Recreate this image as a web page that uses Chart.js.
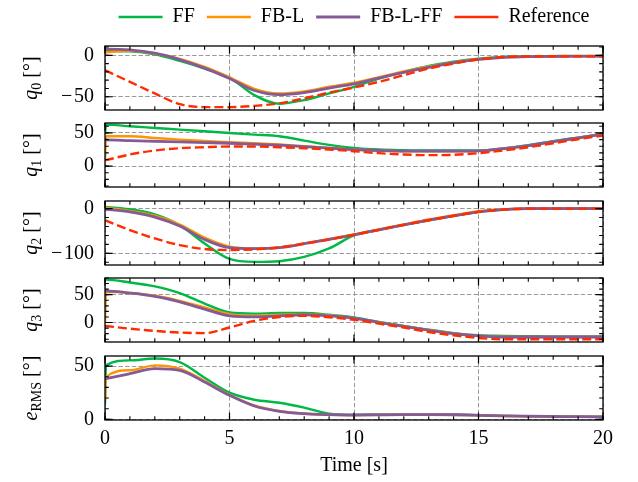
<!DOCTYPE html>
<html>
<head>
<meta charset="utf-8">
<script src="https://cdn.jsdelivr.net/npm/chart.js@4.4.1/dist/chart.umd.min.js"></script>
<style>
  body { margin: 0; background: #fff; }
  #wrap { position: relative; width: 638px; height: 482px; overflow: hidden; background: #fff; }
  #wrap canvas { position: absolute; left: 0; }
</style>
</head>
<body>
<div id="wrap">
  <canvas id="legend" width="638" height="60" style="top:-5px"></canvas>
  <canvas id="p0" width="638" height="80" style="top:38px"></canvas>
  <canvas id="p1" width="638" height="80" style="top:115px"></canvas>
  <canvas id="p2" width="638" height="80" style="top:193px"></canvas>
  <canvas id="p3" width="638" height="80" style="top:270px"></canvas>
  <canvas id="p4" width="638" height="134" style="top:348px"></canvas>
</div>
<script>
// time [s]; the 0.04 sample carries the jump right after start
const time = [0, 0.04, 1, 2, 3, 4, 5, 6, 7, 8, 9, 10, 11, 12, 13, 14, 15, 16, 17, 18, 19, 20];

// q0 [deg]
const q0FF    = [5.2, 5.2, 4.8, 1.2, -6.8, -16, -27, -48, -58.5, -54, -46, -38, -28, -20, -12.8, -7.6, -4, -2, -1.2, -1, -1, -1];
const q0FBL   = [3.5, 3.6, 5.5, 2.2, -4.5, -14, -26.5, -40.5, -46, -43.5, -38, -33, -26.5, -19.5, -13.5, -8.5, -4.8, -2.5, -1.5, -1.2, -1, -1];
const q0FBLFF = [7.5, 7.5, 6.5, 2.5, -5.2, -15.5, -28, -42.5, -47.5, -45, -39.5, -34.5, -27.5, -20.5, -14.5, -9, -5, -2.5, -1.5, -1.2, -1, -1];
const q0Ref   = [-18, -18.6, -32, -46, -59, -62.5, -62.5, -61, -58, -52, -45, -38.8, -32, -24, -16, -10, -5, -2.2, -1.3, -1.2, -1.2, -1.2];

// q1 [deg]
const q1FF    = [50, 62.5, 60, 57.5, 55, 52.5, 50, 47.5, 45, 38.5, 32, 27.5, 25, 24, 23.5, 23.5, 23.5, 26.5, 31.5, 37.5, 43, 48.5];
const q1FBL   = [8.5, 45, 45, 42.5, 40, 38, 36, 34.5, 32.5, 30, 27.5, 25, 23.5, 22.5, 22.5, 22.5, 23, 26.5, 31, 37, 42.5, 48.5];
const q1FBLFF = [39.5, 39.5, 38.5, 37.5, 36.5, 35.5, 34.5, 33, 31.5, 29.5, 27, 25, 23.5, 22.5, 22.5, 22.5, 23, 26.5, 31, 37, 42.5, 48.5];
const q1Ref   = [8.5, 8.9, 17.5, 23.5, 27, 28.5, 29.5, 29.5, 28.5, 27, 25, 22.5, 19.5, 17.5, 16.5, 17, 19.5, 23.5, 28.5, 34.5, 40.5, 46];

// q2 [deg]
const q2FF    = [3.7, 3.6, -1.5, -13, -37, -78, -112.5, -119, -117.5, -108, -89, -60, -47.4, -36.3, -26, -16.3, -7.4, -2.2, 0, 0, 0, 0];
const q2FBL   = [1.5, 1.4, -5, -16, -35.5, -65, -85, -89, -86.7, -77.8, -68, -57.8, -46.7, -35.5, -24.4, -14.8, -6, -1.5, 0, 0.3, 0.3, 0.3];
const q2FBLFF = [-1.5, -1.7, -7.4, -19, -39, -69, -87.4, -89.6, -87.4, -78.5, -68.9, -58.5, -47.4, -36.3, -26, -16.3, -7.4, -2.2, 0, 0, 0, 0];
const q2Ref   = [-26, -27, -48, -66.7, -81.5, -90.4, -92.6, -91, -86.7, -78.5, -68.9, -58.5, -47.4, -36.3, -26, -16.3, -7.4, -2.2, 0, 0, 0, 0];

// q3 [deg]
const q3FF    = [77, 77, 72, 65, 53, 34, 18, 16, 17, 17, 14, 9, 1.2, -6, -13, -19, -23, -24, -24.5, -25, -25, -25];
const q3FBL   = [0, 55, 53, 48, 39, 27, 15, 12, 14, 15, 13, 8, 0.5, -6.5, -13.5, -19.5, -23.5, -25.5, -26, -26, -26, -26];
const q3FBLFF = [57, 57, 53, 47, 37, 24, 12, 10, 12, 14, 12, 8, 0, -7, -14, -20, -24, -26, -26, -26, -26, -26];
const q3Ref   = [-6, -6.2, -11, -15, -18, -19, -9, 3, 10, 12, 9.5, 5, -2, -9, -17, -23, -27.7, -30, -30, -30, -30, -30];

// e_RMS [deg]
const eFF    = [14.7, 50.6, 55.3, 57, 53.7, 39, 25, 18.4, 15.6, 11, 5.3, 4.4, 4.5, 4.7, 4.7, 4.5, 4, 3.3, 3, 2.8, 2.6, 2.4];
const eFBL   = [17.8, 39.7, 46, 50.6, 47.5, 36, 23, 13, 7.8, 5.3, 4.4, 4, 4.2, 4.4, 4.5, 4.3, 3.8, 3.2, 2.9, 2.7, 2.5, 2.4];
const eFBLFF = [38, 38.2, 42.8, 47.5, 46, 35, 22.5, 12.5, 7.5, 5.3, 4.4, 4, 4.2, 4.4, 4.5, 4.3, 3.8, 3.2, 2.9, 2.7, 2.5, 2.4];

const FONT = '"Liberation Serif", "DejaVu Serif", serif';
const FS = 20;
Chart.defaults.font.family = FONT;
Chart.defaults.font.size = FS;
Chart.defaults.color = '#000';

const styles = [
  { label: 'FF', color: '#00B945', width: 2.4, dash: [] },
  { label: 'FB-L', color: '#FF9500', width: 2.4, dash: [] },
  { label: 'FB-L-FF', color: '#845B97', width: 2.8, dash: [] },
  { label: 'Reference', color: '#FF2C00', width: 2.4, dash: [9, 4] },
];

function lineSet(i, values) {
  const s = styles[i];
  return {
    label: s.label,
    data: values ? values.map((v, k) => ({ x: time[k], y: v })) : [],
    borderColor: s.color,
    backgroundColor: s.color,
    borderWidth: s.width,
    borderDash: s.dash,
    pointRadius: 0,
    cubicInterpolationMode: 'monotone',
    fill: false,
    order: 10 - i, // reference ends up on top
  };
}

// frame, inward ticks on all sides, y label with subscript
const framePlugin = {
  id: 'frame',
  afterDraw(chart, args, opts) {
    const { ctx, chartArea: a, scales: { x, y } } = chart;
    ctx.save();
    ctx.strokeStyle = '#000';
    const marks = (scale, step, len, lw) => {
      ctx.lineWidth = lw;
      ctx.beginPath();
      for (let v = Math.ceil(scale.min / step) * step; v <= scale.max + 1e-9; v += step) {
        const p = scale.getPixelForValue(v);
        if (scale.isHorizontal()) {
          ctx.moveTo(p, a.bottom); ctx.lineTo(p, a.bottom - len);
          ctx.moveTo(p, a.top); ctx.lineTo(p, a.top + len);
        } else {
          ctx.moveTo(a.left, p); ctx.lineTo(a.left + len, p);
          ctx.moveTo(a.right, p); ctx.lineTo(a.right - len, p);
        }
      }
      ctx.stroke();
    };
    marks(x, 1, 3.8, 1.1);
    marks(x, 5, 7.6, 1.2);
    marks(y, opts.minor, 3.8, 1.1);
    marks(y, opts.step, 7.6, 1.2);
    ctx.lineWidth = 1.3;
    ctx.strokeRect(a.left, a.top, a.right - a.left, a.bottom - a.top);

    const parts = opts.title.map(([text, kind]) => ({
      text, kind,
      font: kind === 'sub' ? `14px ${FONT}` : `${kind === 'i' ? 'italic ' : ''}${FS}px ${FONT}`,
    }));
    let total = 0;
    parts.forEach(p => { ctx.font = p.font; p.w = ctx.measureText(p.text).width; total += p.w; });
    ctx.translate(31, (a.top + a.bottom) / 2);
    ctx.rotate(-Math.PI / 2);
    ctx.fillStyle = '#000';
    ctx.textBaseline = 'alphabetic';
    let cx = -total / 2;
    parts.forEach(p => {
      ctx.font = p.font;
      ctx.fillText(p.text, cx, p.kind === 'sub' ? 10 : 6);
      cx += p.w;
    });
    ctx.restore();
  },
};

const panels = [
  { id: 'p0', min: -66, max: 11.2, step: 50, minor: 10, title: [['q', 'i'], ['0', 'sub'], [' [°]', '']], series: [q0FF, q0FBL, q0FBLFF, q0Ref] },
  { id: 'p1', min: -31.5, max: 65, step: 50, minor: 10, title: [['q', 'i'], ['1', 'sub'], [' [°]', '']], series: [q1FF, q1FBL, q1FBLFF, q1Ref] },
  { id: 'p2', min: -126, max: 17, step: 100, minor: 20, title: [['q', 'i'], ['2', 'sub'], [' [°]', '']], series: [q2FF, q2FBL, q2FBLFF, q2Ref] },
  { id: 'p3', min: -35, max: 80, step: 50, minor: 10, title: [['q', 'i'], ['3', 'sub'], [' [°]', '']], series: [q3FF, q3FBL, q3FBLFF, q3Ref] },
  { id: 'p4', min: -0.6, max: 59.4, step: 50, minor: 10, title: [['e', 'i'], ['RMS', 'sub'], [' [°]', '']], series: [eFF, eFBL, eFBLFF] },
];

const gridOpts = { color: '#9a9a9a', lineWidth: 1, drawTicks: false };
const borderOpts = { display: false, dash: [4.5, 2.2] };

panels.forEach((p, idx) => {
  const last = idx === panels.length - 1;
  new Chart(document.getElementById(p.id), {
    type: 'line',
    data: { datasets: p.series.map((vals, i) => lineSet(i, vals)) },
    options: {
      responsive: false,
      animation: false,
      events: [],
      layout: { padding: { left: 0, right: 35, top: 8, bottom: last ? 0 : 8 } },
      scales: {
        x: {
          type: 'linear', min: 0, max: 20,
          ticks: { stepSize: 5, display: last, padding: 7, maxRotation: 0 },
          grid: gridOpts, border: borderOpts,
          title: { display: last, text: 'Time [s]', padding: { top: 0, bottom: 4 } },
          afterFit: s => {
            s.height = last ? 62 : 0;
            s.paddingLeft = s.paddingRight = 0;
          },
        },
        y: {
          min: p.min, max: p.max,
          ticks: {
            stepSize: p.step, includeBounds: false, padding: 11,
            callback: v => (v < 0 ? '\u2212\u200a' + Math.abs(v) : String(v)),
          },
          grid: gridOpts, border: borderOpts,
          afterFit: s => {
            s.width = 105;
            s.paddingTop = s.paddingBottom = 0;
          },
        },
      },
      plugins: {
        legend: { display: false },
        tooltip: { enabled: false },
        frame: { step: p.step, minor: p.minor, title: p.title },
      },
    },
    plugins: [framePlugin],
  });
});

// legend only chart on top
new Chart(document.getElementById('legend'), {
  type: 'line',
  data: { datasets: styles.map((s, i) => lineSet(i, null)) },
  options: {
    responsive: false,
    animation: false,
    events: [],
    layout: { padding: { left: 105, right: 35 } },
    scales: { x: { display: false }, y: { display: false } },
    plugins: {
      tooltip: { enabled: false },
      legend: {
        labels: {
          usePointStyle: true, pointStyle: 'line', pointStyleWidth: 44,
          padding: 12, color: '#000', font: { size: FS },
          sort: (a, b) => a.datasetIndex - b.datasetIndex,
        },
      },
    },
  },
});
</script>
</body>
</html>
